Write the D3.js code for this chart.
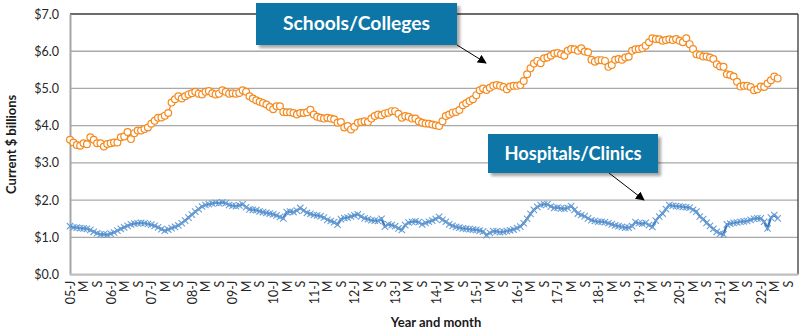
<!DOCTYPE html>
<html>
<head>
<meta charset="utf-8">
<script src="https://cdn.jsdelivr.net/npm/d3@7"></script>
<style>
  html, body { margin: 0; padding: 0; background: #ffffff; }
  svg { display: block; }
  text { font-family: Lato, "Open Sans", sans-serif; }
</style>
</head>
<body>
<script>
// ---------- DATA ----------
const startYear = 2005;
const categoryCount = 216;               // Jan 2005 .. Dec 2022 on the category axis
const monthLetters = ["J", "M", "S"];    // labels every 4 months
const yTicks = [0, 1, 2, 3, 4, 5, 6, 7];

const schoolsColleges = [
  3.62,3.55,3.48,3.46,3.53,3.50,3.69,3.62,3.53,3.53,3.44,3.51,
  3.53,3.55,3.55,3.69,3.71,3.83,3.64,3.80,3.87,3.87,3.91,3.95,
  4.05,4.13,4.21,4.22,4.27,4.34,4.62,4.71,4.79,4.73,4.79,4.84,
  4.87,4.91,4.86,4.84,4.91,4.93,4.87,4.84,4.86,4.95,4.91,4.86,
  4.87,4.86,4.88,4.95,4.91,4.79,4.73,4.68,4.64,4.61,4.57,4.50,
  4.44,4.52,4.52,4.37,4.36,4.36,4.34,4.30,4.34,4.34,4.36,4.43,
  4.30,4.24,4.21,4.19,4.21,4.19,4.17,4.08,4.10,3.95,3.99,3.90,
  3.97,4.08,4.10,4.12,4.10,4.19,4.26,4.30,4.28,4.33,4.35,4.39,
  4.39,4.32,4.21,4.26,4.24,4.19,4.19,4.12,4.08,4.06,4.05,4.03,
  4.01,3.99,4.12,4.26,4.30,4.35,4.37,4.42,4.55,4.60,4.66,4.71,
  4.82,4.95,5.00,4.96,5.02,5.07,5.09,5.07,5.04,4.98,5.05,5.07,
  5.07,5.09,5.20,5.38,5.54,5.67,5.74,5.68,5.81,5.83,5.88,5.94,
  5.95,5.92,5.88,6.01,6.06,6.05,6.01,6.08,5.99,5.97,5.77,5.72,
  5.76,5.76,5.74,5.58,5.63,5.77,5.79,5.77,5.83,5.85,6.01,6.05,
  6.06,6.08,6.15,6.24,6.35,6.33,6.32,6.28,6.30,6.32,6.30,6.33,
  6.28,6.24,6.35,6.19,6.06,5.92,5.90,5.86,5.86,5.83,5.79,5.65,
  5.59,5.58,5.38,5.36,5.32,5.18,5.05,5.07,5.07,5.04,4.95,4.98,
  5.05,5.04,5.13,5.22,5.32,5.27
];

const hospitalsClinics = [
  1.30,1.27,1.26,1.25,1.24,1.23,1.20,1.15,1.11,1.08,1.08,1.07,
  1.10,1.13,1.18,1.23,1.27,1.31,1.35,1.37,1.38,1.39,1.38,1.36,
  1.34,1.31,1.27,1.22,1.18,1.21,1.25,1.28,1.32,1.38,1.45,1.53,
  1.61,1.69,1.76,1.83,1.87,1.89,1.91,1.93,1.92,1.94,1.92,1.87,
  1.85,1.84,1.86,1.89,1.81,1.75,1.74,1.73,1.70,1.68,1.66,1.64,
  1.62,1.59,1.55,1.51,1.68,1.69,1.68,1.72,1.79,1.72,1.66,1.63,
  1.60,1.59,1.57,1.53,1.47,1.44,1.41,1.34,1.49,1.52,1.53,1.56,
  1.59,1.62,1.56,1.51,1.49,1.46,1.45,1.44,1.50,1.29,1.35,1.33,
  1.30,1.24,1.20,1.33,1.40,1.42,1.43,1.41,1.35,1.39,1.42,1.45,
  1.49,1.55,1.47,1.42,1.35,1.31,1.28,1.26,1.24,1.23,1.22,1.21,
  1.20,1.18,1.16,1.06,1.12,1.17,1.16,1.14,1.15,1.17,1.19,1.21,
  1.25,1.29,1.38,1.50,1.63,1.74,1.82,1.87,1.89,1.89,1.83,1.79,
  1.80,1.78,1.77,1.79,1.84,1.74,1.64,1.60,1.57,1.51,1.46,1.44,
  1.42,1.42,1.41,1.38,1.35,1.32,1.30,1.28,1.26,1.26,1.30,1.41,
  1.38,1.37,1.39,1.33,1.28,1.45,1.56,1.64,1.76,1.87,1.85,1.84,
  1.83,1.82,1.81,1.80,1.74,1.69,1.56,1.49,1.39,1.31,1.23,1.15,
  1.10,1.08,1.35,1.37,1.39,1.40,1.42,1.43,1.44,1.47,1.50,1.51,
  1.51,1.42,1.24,1.53,1.60,1.51
];

const seriesNames = ["Schools/Colleges", "Hospitals/Clinics"];
const yAxisTitle = "Current $ billions";
const xAxisTitle = "Year and month";

// ---------- LAYOUT ----------
const W = 800, H = 333;
const plot = { left: 70, right: 798, top: 14, bottom: 274.6 };

const svg = d3.select("body").append("svg")
  .attr("width", W).attr("height", H);

const x = d3.scaleLinear().domain([0, categoryCount - 1]).range([plot.left, plot.right]);
const y = d3.scaleLinear().domain([0, 7]).range([plot.bottom, plot.top]);

// gridlines
svg.append("g").selectAll("line").data(yTicks.filter(d => d > 0 && d < 7)).join("line")
  .attr("x1", plot.left).attr("x2", plot.right)
  .attr("y1", d => y(d)).attr("y2", d => y(d))
  .attr("stroke", "#a9a9a9").attr("stroke-width", 1.3);

// plot border top/right (dark)
svg.append("line").attr("x1", plot.left).attr("x2", plot.right)
  .attr("y1", y(7)).attr("y2", y(7)).attr("stroke", "#3a3a3a").attr("stroke-width", 1.3);
svg.append("line").attr("x1", plot.right).attr("x2", plot.right)
  .attr("y1", y(7)).attr("y2", y(0)).attr("stroke", "#3a3a3a").attr("stroke-width", 1.3);

// Y axis
const yAxis = svg.append("g").attr("transform", `translate(${plot.left},0)`)
  .call(d3.axisLeft(y).tickValues(yTicks).tickFormat(d => "$" + d.toFixed(1)).tickSize(0).tickPadding(11));
yAxis.select(".domain").attr("stroke", "#a6a6a6").attr("stroke-width", 2);
yAxis.selectAll("text").attr("font-size", 12.5).attr("fill", "#262626")
  .style("font-family", "Lato, sans-serif");

// X axis baseline
svg.append("line").attr("x1", plot.left).attr("x2", plot.right)
  .attr("y1", y(0)).attr("y2", y(0)).attr("stroke", "#bfbfbf").attr("stroke-width", 2.2);

// X tick labels (every 4 months)
const tickIdx = d3.range(0, categoryCount, 4);
const labelFor = i => {
  const yr = startYear + Math.floor(i / 12);
  const m = monthLetters[(i % 12) / 4];
  return m === "J" ? String(yr).slice(2) + "-J" : m;
};
const xAxis = svg.append("g").attr("transform", `translate(0,${y(0)})`)
  .call(d3.axisBottom(x).tickValues(tickIdx).tickFormat(labelFor).tickSize(0));
xAxis.select(".domain").remove();
xAxis.selectAll("text")
  .attr("font-size", 12.5).attr("fill", "#262626")
  .style("font-family", "Lato, sans-serif")
  .attr("text-anchor", "end")
  .attr("dy", "0.35em")
  .attr("transform", "translate(0,6) rotate(-90)")
  .attr("x", 0).attr("y", 0);

// axis titles
svg.append("text").text(yAxisTitle)
  .attr("transform", `translate(16,${(plot.top + plot.bottom) / 2}) rotate(-90)`)
  .attr("text-anchor", "middle").attr("font-size", 13).attr("font-weight", "bold").attr("fill", "#1a1a1a");
svg.append("text").text(xAxisTitle)
  .attr("x", 436).attr("y", 327)
  .attr("text-anchor", "middle").attr("font-size", 13).attr("font-weight", "bold").attr("fill", "#1a1a1a");

// ---------- SERIES ----------
const line = d3.line().x((d, i) => x(i)).y(d => y(d));

// Schools/Colleges
const orange = "#f58a1f";
svg.append("path").datum(schoolsColleges).attr("d", line)
  .attr("fill", "none").attr("stroke", orange).attr("stroke-width", 1.2);
svg.append("g").selectAll("circle").data(schoolsColleges).join("circle")
  .attr("cx", (d, i) => x(i)).attr("cy", d => y(d)).attr("r", 3.4)
  .attr("fill", "#ffffff").attr("stroke", orange).attr("stroke-width", 1.2);

// Hospitals/Clinics
const blue = "#3874b8";
svg.append("path").datum(hospitalsClinics).attr("d", line)
  .attr("fill", "none").attr("stroke", blue).attr("stroke-width", 2.2);
svg.append("g").selectAll("path").data(hospitalsClinics).join("path")
  .attr("transform", (d, i) => `translate(${x(i)},${y(d)})`)
  .attr("d", "M-3.2,-3.2L3.2,3.2M3.2,-3.2L-3.2,3.2")
  .attr("fill", "none").attr("stroke", "#6a9fd6").attr("stroke-width", 1.1);

// ---------- ANNOTATIONS ----------
const defs = svg.append("defs");
defs.append("marker").attr("id", "arrow").attr("viewBox", "0 0 10 10")
  .attr("refX", 9).attr("refY", 5).attr("markerWidth", 9).attr("markerHeight", 9)
  .attr("markerUnits", "userSpaceOnUse").attr("orient", "auto")
  .append("path").attr("d", "M0,0L10,5L0,10z").attr("fill", "#000");
const flt = defs.append("filter").attr("id", "shadow").attr("x", "-10%").attr("y", "-10%").attr("width", "130%").attr("height", "140%");
flt.append("feDropShadow").attr("dx", 3).attr("dy", 3).attr("stdDeviation", 1.6)
  .attr("flood-color", "#000").attr("flood-opacity", 0.35);

const boxes = [
  { name: seriesNames[0], x0: 256, y0: 3, x1: 457, y1: 45, ax0: 457, ay0: 45, ax1: 486, ay1: 63, tw: 147 },
  { name: seriesNames[1], x0: 488, y0: 134, x1: 658, y1: 173, ax0: 609, ay0: 173, ax1: 644, ay1: 200, tw: 137 }
];
boxes.forEach(b => {
  svg.append("line").attr("x1", b.ax0).attr("y1", b.ay0).attr("x2", b.ax1).attr("y2", b.ay1)
    .attr("stroke", "#000").attr("stroke-width", 1).attr("marker-end", "url(#arrow)");
  svg.append("rect").attr("x", b.x0).attr("y", b.y0)
    .attr("width", b.x1 - b.x0).attr("height", b.y1 - b.y0)
    .attr("fill", "#1176a6").attr("filter", "url(#shadow)");
  svg.append("text").text(b.name)
    .attr("x", (b.x0 + b.x1) / 2).attr("y", (b.y0 + b.y1) / 2)
    .attr("dy", "0.36em").attr("text-anchor", "middle")
    .attr("textLength", b.tw).attr("lengthAdjust", "spacingAndGlyphs")
    .attr("font-size", 18).attr("font-weight", "bold").attr("fill", "#ffffff");
});
</script>
</body>
</html>
